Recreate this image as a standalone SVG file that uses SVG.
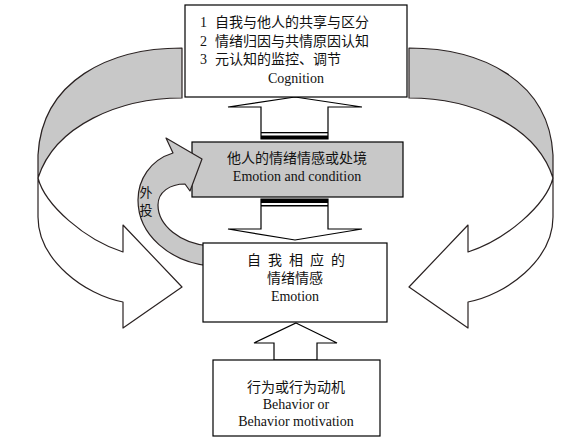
<svg xmlns="http://www.w3.org/2000/svg" width="581" height="444" viewBox="0 0 581 444">
<style>
.box{fill:#fff;stroke:#000;stroke-width:1.2}
.gbox{fill:#c8c8c8;stroke:#000;stroke-width:1.2}
.band{fill:#c8c8c8;stroke:#2a2222;stroke-width:1.2;stroke-linejoin:round}
.wband{fill:#fff;stroke:#2a2222;stroke-width:1.2;stroke-linejoin:round}
.blk{fill:#fff;stroke:#000;stroke-width:1.2;stroke-linejoin:miter}
.t{font-family:"Liberation Serif","Noto Sans CJK SC",serif;font-size:14px;fill:#111}
.c{text-anchor:middle}
</style>
<defs>
<g id="bigArrow">
<path class="band" d="M182,48 C110,48 42,80 38,155 L38,178 C55,125 120,98 182,98 Z"/>
<path class="wband" d="M38,178 C45,205 85,240 123,252 L123,225 L182,287 L123,328 L123,302 C85,295 38,260 38,217 Z"/>
</g>
</defs>
<g id="connectors">
<use href="#bigArrow"/>
<use href="#bigArrow" transform="translate(591,0) scale(-1,1)"/>
<path class="blk" d="M295,97 L362,107 L328,107 L328,139 L261,139 L261,107 L228,107 Z"/>
<rect x="261" y="132" width="67" height="1.3" fill="#000"/>
<rect x="261" y="135.5" width="67" height="3.5" fill="#000"/>
<path class="blk" d="M261,199 L328,199 L328,229 L362,229 L295,240 L228,229 L261,229 Z"/>
<rect x="261" y="199" width="67" height="4" fill="#000"/>
<rect x="261" y="205" width="67" height="1.5" fill="#000"/>
<path class="blk" d="M296,323 L337,343 L317,343 L317,360 L274,360 L274,343 L254,343 Z"/>
</g>
<g id="cognition">
<rect class="box" x="185" y="5" width="222" height="92"/>
<text class="t" y="27"><tspan x="200">1</tspan><tspan x="215">自我与他人的共享与区分</tspan></text>
<text class="t" y="45.5"><tspan x="200">2</tspan><tspan x="215">情绪归因与共情原因认知</tspan></text>
<text class="t" y="64"><tspan x="200">3</tspan><tspan x="215">元认知的监控、调节</tspan></text>
<text class="t c" x="296" y="83">Cognition</text>
</g>
<g id="others-emotion">
<rect class="gbox" x="192" y="142" width="211" height="55"/>
<text class="t c" x="297" y="163">他人的情绪情感或处境</text>
<text class="t c" x="297" y="180.5">Emotion and condition</text>
</g>
<g id="projection">
<path class="band" d="M173,153 L166,138 L202,159 L190,191 L185,184 C170,184 158,192 158,205 C158,225 180,244 210,246 L210,266 C170,262 138,235 138,200 C138,180 150,160 173,153 Z"/>
<text class="t c" x="146" y="197" style="font-size:13px">外</text>
<text class="t c" x="146" y="215" style="font-size:13px">投</text>
</g>
<g id="self-emotion">
<rect class="box" x="203" y="243" width="184" height="79"/>
<text class="t" y="265" x="247 268 289 310 331">自我相应的</text>
<text class="t c" x="295" y="283">情绪情感</text>
<text class="t c" x="295" y="301">Emotion</text>
</g>
<g id="behavior">
<rect class="box" x="213" y="360" width="167" height="76"/>
<text class="t c" x="296" y="392">行为或行为动机</text>
<text class="t c" x="296" y="409">Behavior or</text>
<text class="t c" x="296" y="425.5">Behavior motivation</text>
</g>
</svg>
